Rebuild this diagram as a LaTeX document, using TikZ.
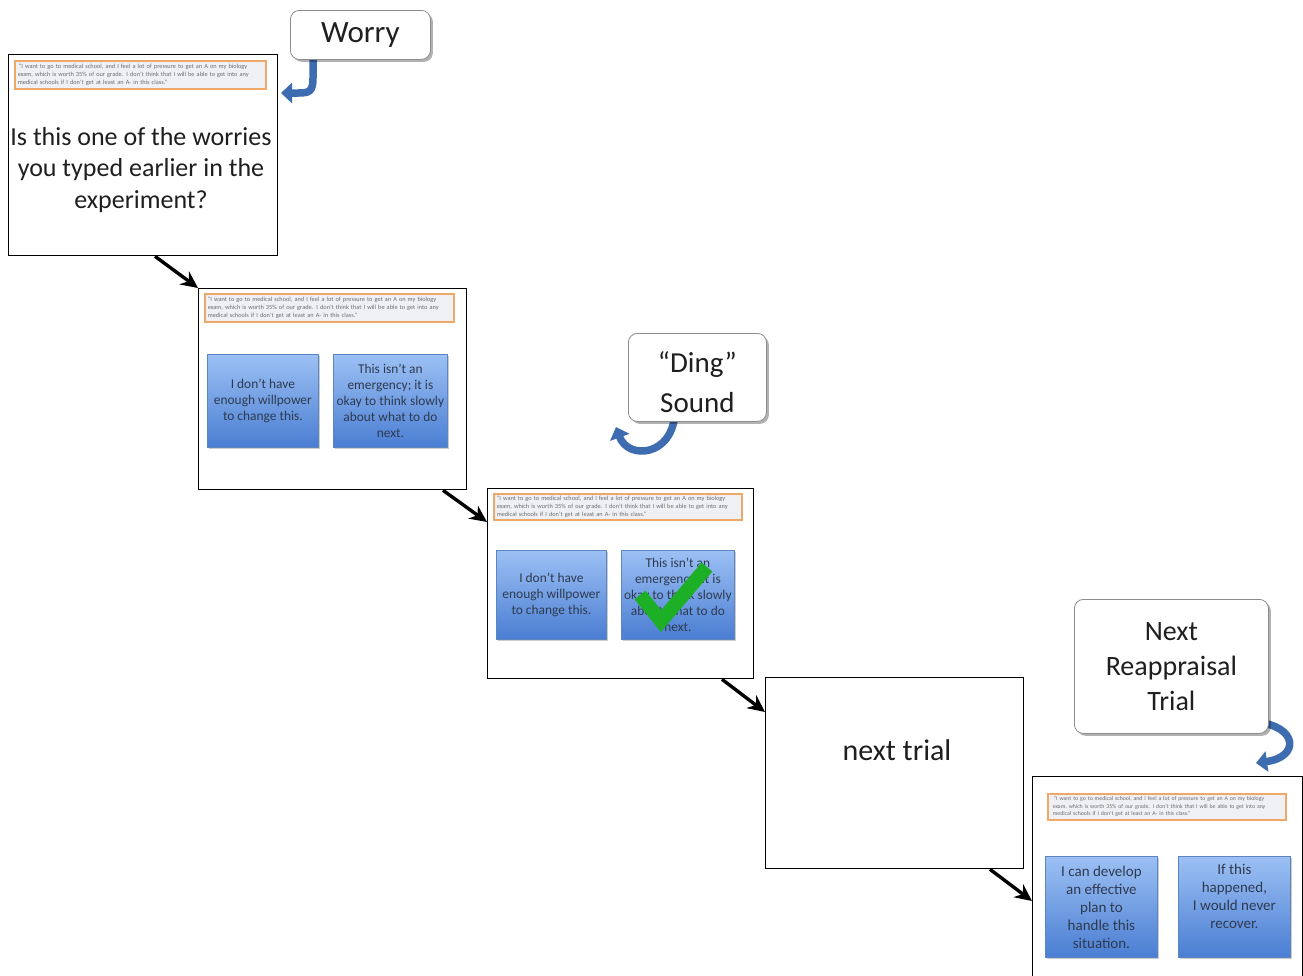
\documentclass[tikz,border=0pt]{standalone}
\usepackage{fontspec}
\setmainfont{Carlito}
\usetikzlibrary{shadows,arrows.meta,calc}
\definecolor{qborder}{HTML}{F0A868}
\definecolor{qfill}{HTML}{EEF0F4}
\definecolor{qtext}{HTML}{6E6E6E}
\definecolor{btop}{HTML}{9CC0F4}
\definecolor{bbot}{HTML}{4A7ED2}
\definecolor{bedge}{HTML}{5B86C2}
\definecolor{btext}{HTML}{2E3A50}
\definecolor{arrblue}{HTML}{3D6DB0}
\definecolor{chk}{HTML}{1DB026}
\tikzset{
  panel/.style={draw=black, line width=1.3pt, fill=white, anchor=north west, inner sep=0pt},
  quotebox/.style={draw=qborder, line width=1.5pt, fill=qfill, anchor=north west, text=qtext,
    font=\fontsize{6.3}{8}\selectfont, align=left, inner sep=0pt},
  choice/.style={shading=axis, top color=btop, bottom color=bbot, draw=bedge, line width=0.8pt,
    text=btext, align=center, anchor=north west, inner sep=0pt,
    drop shadow={shadow xshift=1.5pt, shadow yshift=-1.5pt, opacity=0.2, fill=black}},
  smallchoice/.style={choice, font=\fontsize{13.4}{15.8}\selectfont},
  bigchoice/.style={choice, font=\fontsize{15}{18}\selectfont},
  callout/.style={draw=black!45, line width=0.8pt, fill=white, rounded corners=9pt,
    drop shadow={shadow xshift=2.5pt, shadow yshift=-2.5pt, opacity=0.3, fill=black},
    align=center, anchor=north west, text=black!88, inner sep=0pt},
  callouttext/.style={align=center, text=black!88, inner sep=0pt},
  flowarrow/.style={-{Stealth[length=17pt,width=16pt]}, line width=3.4pt, black},
  bluearrow/.style={draw=arrblue, line width=7.5pt, -{Triangle[length=11pt,width=20pt]}},
}
\begin{document}
\begin{tikzpicture}[x=1pt,y=-1pt]
\clip (0,0) rectangle (1303,975);
\fill[white] (0,0) rectangle (1303,975);

% panels
\node[panel, minimum width=269pt, minimum height=201pt] (p1) at (8,54) {};
\node[panel, minimum width=268pt, minimum height=201pt] (p2) at (198,288) {};
\node[panel, minimum width=266pt, minimum height=190pt] (p3) at (487,488) {};
\node[panel, minimum width=258pt, minimum height=191pt] (p4) at (765,677) {};
\node[panel, minimum width=270pt, minimum height=230pt] (p5) at (1032,776) {};

% quote boxes
\node[quotebox, minimum width=251pt, minimum height=28pt, text width=245pt] (q1) at (14,60)
 {\hspace*{1pt}“I want to go to medical school, and I feel a lot of pressure to get an A on my biology\\
  exam, which is worth 35\% of our grade. I don't think that I will be able to get into any\\
  medical schools if I don't get at least an A- in this class.”};
\node[quotebox, minimum width=249pt, minimum height=28pt, text width=243pt] (q2) at (204,293)
 {“I want to go to medical school, and I feel a lot of pressure to get an A on my biology\\
  exam, which is worth 35\% of our grade. I don't think that I will be able to get into any\\
  medical schools if I don't get at least an A- in this class.”};
\node[quotebox, minimum width=248pt, minimum height=26pt, text width=242pt,
      font=\fontsize{6.3}{7.6}\selectfont] (q3) at (493,493)
 {“I want to go to medical school, and I feel a lot of pressure to get an A on my biology\\
  exam, which is worth 35\% of our grade. I don't think that I will be able to get into any\\
  medical schools if I don't get at least an A- in this class.”};
\node[quotebox, minimum width=238pt, minimum height=26pt, text width=228pt,
      font=\fontsize{5.8}{7.6}\selectfont] (q5) at (1047,793)
 {\hspace*{1pt}“I want to go to medical school, and I feel a lot of pressure to get an A on my biology\\
  exam, which is worth 35\% of our grade. I don't think that I will be able to get into any\\
  medical schools if I don't get at least an A- in this class.”};

% panel 1 question
\node[font=\fontsize{26}{31.5}\selectfont, align=center, text=black!88] (t1) at (141,170)
 {Is this one of the worries\\you typed earlier in the\\experiment?};

% panel 2 choices
\node[smallchoice, minimum width=111pt, minimum height=93pt] (c2a) at (207,354)
 {I don’t have\\enough willpower\\to change this.};
\node[smallchoice, minimum width=114pt, minimum height=93pt] (c2b) at (333,354)
 {This isn’t an\\emergency; it is\\okay to think slowly\\about what to do\\next.};

% panel 3 choices
\node[smallchoice, minimum width=110pt, minimum height=89pt] (c3a) at (496,550)
 {I don’t have\\enough willpower\\to change this.};
\node[smallchoice, minimum width=113pt, minimum height=89pt] (c3b) at (621,550)
 {This isn’t an\\emergency; it is\\okay to think slowly\\about what to do\\next.};
\draw[chk, line width=14pt, line join=miter] (640,595) -- (661,621) -- (707,567);

% panel 4
\node[font=\fontsize{30}{36}\selectfont, text=black!88] (t4) at (897,750) {next trial};

% panel 5 choices
\node[bigchoice, minimum width=112pt, minimum height=101pt] (c5a) at (1045,856)
 {I can develop\\an effective\\plan to\\handle this\\situation.};
\node[bigchoice, minimum width=112pt, minimum height=101pt] (c5b) at (1178,856)
 {If this\\happened,\\I would never\\recover.\\[4pt]};

% flow arrows
\coordinate (a1s) at ($(p1.south west)+(147,0)$);
\coordinate (a2s) at ($(p2.south west)+(245,0)$);
\coordinate (a2e) at ($(p3.north west)+(0,34)$);
\coordinate (a3s) at ($(p3.south west)+(235,0)$);
\coordinate (a3e) at ($(p4.north west)+(0,35)$);
\coordinate (a4s) at ($(p4.south west)+(225,0)$);
\coordinate (a4e) at ($(p5.north west)+(0,125)$);
\draw[flowarrow] (a1s) -- (p2.north west);
\draw[flowarrow] (a2s) -- (a2e);
\draw[flowarrow] (a3s) -- (a3e);
\draw[flowarrow] (a4s) -- (a4e);

% blue curved arrows
\coordinate (w0) at (313,56);
\coordinate (w1) at (281,93);
\draw[bluearrow] (w0) -- (313,78) .. controls (313,92) and (309,93) .. (298,93) -- (w1);
\coordinate (d0) at (675,412);
\coordinate (d1) at (616,427);
\draw[bluearrow] (d0) .. controls (673,457) and (628,460) .. (d1);
\coordinate (n0) at (1256,722);
\coordinate (n1) at (1256,763);
\draw[bluearrow] (n0) .. controls (1298,726) and (1300,757) .. (n1);

% callouts
\node[callout, minimum width=140pt, minimum height=49pt, font=\fontsize{31}{36}\selectfont] (cw) at (290,10) {Worry};
\node[callout, minimum width=138pt, minimum height=88pt] (cd) at (628,333) {};
\node[callouttext, font=\fontsize{29}{40}\selectfont] (cdt) at ($(cd.center)+(0,5)$) {“Ding”\\Sound};
\node[callout, minimum width=194pt, minimum height=134pt, font=\fontsize{28}{35}\selectfont] (cn) at (1074,599) {Next\\Reappraisal\\Trial};
\end{tikzpicture}
\end{document}
